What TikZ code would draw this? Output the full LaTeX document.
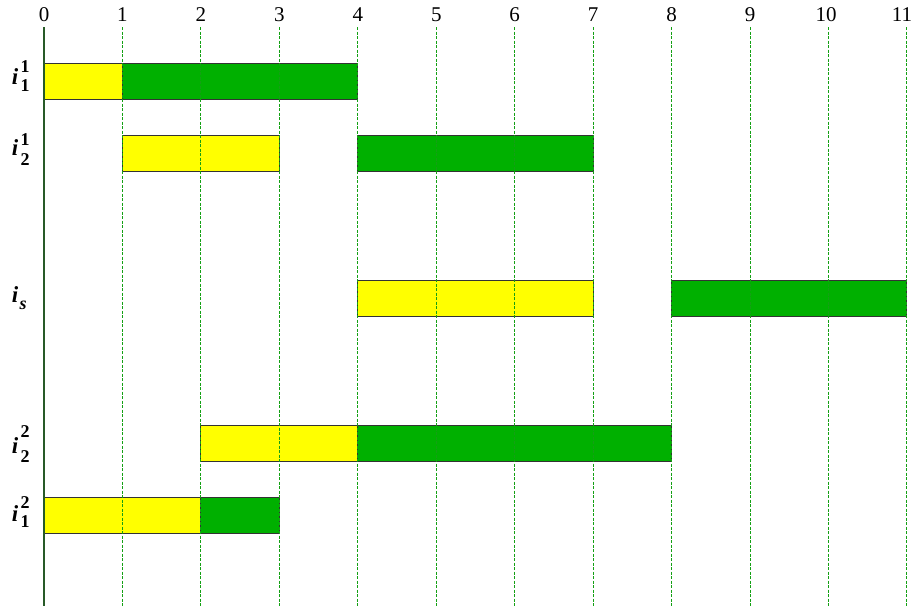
\documentclass[tikz,border=0pt]{standalone}
\usepackage{fontspec}
\setmainfont{Liberation Serif}
\definecolor{barY}{RGB}{255,255,0}
\definecolor{barG}{RGB}{0,176,0}
\definecolor{gridG}{RGB}{20,160,20}
\definecolor{axisG}{RGB}{40,90,40}
\begin{document}
\begin{tikzpicture}[x=1pt,y=-1pt,
  ybar/.style={draw=black!80,line width=1pt,fill=barY},
  gbar/.style={draw=black!80,line width=1pt,fill=barG},
  gridline/.style={gridG,line width=1pt,dash pattern=on 3pt off 1.5pt},
  tick/.style={font=\fontsize{21}{21}\selectfont,inner sep=0pt},
  ilab/.style={font=\fontsize{23}{23}\selectfont\bfseries\itshape,inner sep=0pt,anchor=base},
  slab/.style={font=\fontsize{18}{18}\selectfont\bfseries,inner sep=0pt,anchor=base west}]
\useasboundingbox (0,0) rectangle (915,608);
\def\ux{78.45}
% bars
\newcommand{\mybar}[5]{\path[#1] (44+#2*\ux,#4) rectangle (44+#3*\ux,#4+36) node[pos=0.5] (#5) {};}
\mybar{ybar}{0}{1}{63}{a1}
\mybar{gbar}{1}{4}{63}{a2}
\mybar{ybar}{1}{3}{135}{b1}
\mybar{gbar}{4}{7}{135}{b2}
\mybar{ybar}{4}{7}{280}{c1}
\mybar{gbar}{8}{11}{280}{c2}
\mybar{ybar}{2}{4}{425}{d1}
\mybar{gbar}{4}{8}{425}{d2}
\mybar{ybar}{0}{2}{497}{e1}
\mybar{gbar}{2}{3}{497}{e2}
% grid lines and tick labels
\foreach \k in {0,...,9}{
  \node[tick] (t\k) at (44+\k*\ux,15) {\k};
}
\node[tick] (t10) at (826,15) {10};
\node[tick] (t11) at (902,15) {11};
\foreach \k in {0,...,11}{
  \coordinate (bot\k) at (44+\k*\ux,606);
}
\foreach \k in {1,...,11}{
  \draw[gridline] (44+\k*\ux,27) -- (bot\k);
}
\draw[axisG,line width=1.3pt] (44,27) -- (bot0);
% row labels
\node[ilab] (l1) at (15,84) {i};
\node[slab] (l1p) at (20.5,72) {1};
\node[slab] (l1b) at (20.5,91) {1};
\node[ilab] (l2) at (15,155) {i};
\node[slab] (l2p) at (20.5,145) {1};
\node[slab] (l2b) at (20.5,165) {2};
\node[ilab] (l3) at (15,302) {i};
\node[slab,font=\fontsize{18}{18}\selectfont\bfseries\itshape] (l3b) at (19.5,309) {s};
\node[ilab] (l4) at (15,453) {i};
\node[slab] (l4p) at (20.5,437) {2};
\node[slab] (l4b) at (20.5,462) {2};
\node[ilab] (l5) at (15,521) {i};
\node[slab] (l5p) at (20.5,508) {2};
\node[slab] (l5b) at (20.5,527) {1};
\end{tikzpicture}
\end{document}
